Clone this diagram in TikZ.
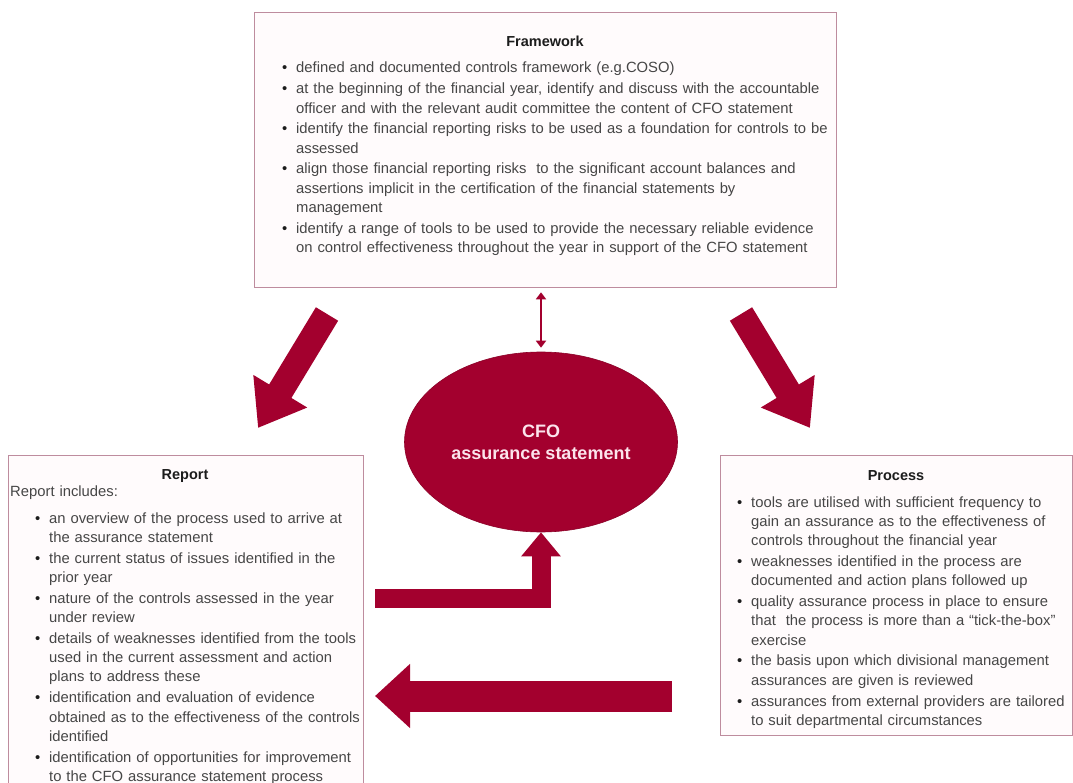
\documentclass[tikz,border=0pt]{standalone}
\usepackage{fontspec}
\setmainfont{Liberation Sans}
\usetikzlibrary{arrows.meta,shapes.geometric,positioning}

\definecolor{wine}{RGB}{163,0,46}
\definecolor{panelline}{RGB}{190,140,158}
\definecolor{panelfill}{RGB}{255,251,252}
\definecolor{bodygray}{RGB}{70,70,70}
\definecolor{headgray}{RGB}{28,28,28}
\definecolor{ovaltext}{RGB}{252,228,236}

\def\bodysize{\fontsize{14.8}{19.3}\selectfont}
\def\bulwidth{14pt}
\newcommand{\bul}[1]{\par\hangindent=\bulwidth\hangafter=1\noindent\makebox[\bulwidth][l]{\strut\textcolor{headgray}{\textbullet}}#1}

\tikzset{
  panel/.style={draw=panelline, fill=panelfill, line width=1.3pt, anchor=north west, inner sep=0pt},
  paneltitle/.style={font=\bfseries\fontsize{14.5}{16}\selectfont, text=headgray},
  listtext/.style={anchor=north west, inner sep=0pt, align=left, font=\bodysize, text=bodygray,
    execute at begin node={\setlength{\parskip}{1.5pt}}},
  fatarrow/.style n args={3}{draw=wine, line width=#1, -{Triangle[width=#2,length=#3]}},
  thinarrow/.style={draw=wine, line width=2.6pt, {Triangle[width=10pt,length=7pt]}-{Triangle[width=10pt,length=7pt]}}
}

\begin{document}
\begin{tikzpicture}[x=1pt,y=-1pt]
  \clip (0,0) rectangle (1073,783);
  \fill[white] (0,0) rectangle (1073,783);

  \node[panel, minimum width=582pt, minimum height=275pt] (frame) at (254,12) {};
  \node[panel, minimum width=355pt, minimum height=340pt] (report) at (8,455) {};
  \node[panel, minimum width=352pt, minimum height=280pt] (process) at (720,455) {};

  \node[paneltitle] (frametitle) at (545,41) {Framework};
  \node[paneltitle] (reporttitle) at (185,476) {Report};
  \node[paneltitle] (processtitle) at (896,476) {Process};

  \node[listtext, text width=550pt] (framelist) at (282,52) {%
    \bul{defined and documented controls framework (e.g.COSO)}
    \bul{at the beginning of the financial year, identify and discuss with the accountable\newline officer and with the relevant audit committee the content of CFO statement}
    \bul{identify the financial reporting risks to be used as a foundation for controls to be\newline assessed}
    \bul{align those financial reporting risks\ \ to the significant account balances and\newline assertions implicit in the certification of the financial statements by\newline management}
    \bul{identify a range of tools to be used to provide the necessary reliable evidence\newline on control effectiveness throughout the year in support of the CFO statement}\par};

  \node[listtext, text width=345pt] (reportintro) at (10,483) {\strut Report includes:};
  \node[listtext, text width=326pt] (reportlist) at (35,502) {%
    \bul{an overview of the process used to arrive at\newline the assurance statement}
    \bul{the current status of issues identified in the\newline prior year}
    \bul{nature of the controls assessed in the year\newline under review}
    \bul{details of weaknesses identified from the tools\newline used in the current assessment and action\newline plans to address these}
    \bul{identification and evaluation of evidence\newline obtained as to the effectiveness of the controls\newline identified}
    \bul{identification of opportunities for improvement\newline to the CFO assurance statement process}\par};

  \node[listtext, text width=334pt] (processlist) at (737,486) {%
    \bul{tools are utilised with sufficient frequency to\newline gain an assurance as to the effectiveness of\newline controls throughout the financial year}
    \bul{weaknesses identified in the process are\newline documented and action plans followed up}
    \bul{quality assurance process in place to ensure\newline that\ \ the process is more than a ``tick-the-box''\newline exercise}
    \bul{the basis upon which divisional management\newline assurances are given is reviewed}
    \bul{assurances from external providers are tailored\newline to suit departmental circumstances}\par};

  \node[ellipse, fill=wine, draw=wine!85!black, line width=0.6pt, minimum width=273pt, minimum height=180pt,
    inner sep=0pt, align=center, text=ovaltext, font=\bfseries\fontsize{18}{22}\selectfont] (cfo) at (541,442)
    {CFO\\assurance statement};

  \draw[thinarrow] ([yshift=-4pt]cfo.north |- frame.south) -- ([yshift=4pt]cfo.north);

  \foreach \tail/\tip in {{(327,314)}/{(258,428)}, {(741,314)}/{(810,428)}}
    \draw[fatarrow={26pt}{60pt}{43pt}] \tail -- \tip;

  \coordinate (bendstart) at (375,598);
  \draw[fatarrow={19pt}{38pt}{24pt}, line join=miter] (bendstart) -| (cfo.south);

  \coordinate (backstart) at (672,696);
  \coordinate (backend) at (375,696);
  \draw[fatarrow={31pt}{62pt}{35pt}] (backstart) -- (backend);
\end{tikzpicture}
\end{document}
